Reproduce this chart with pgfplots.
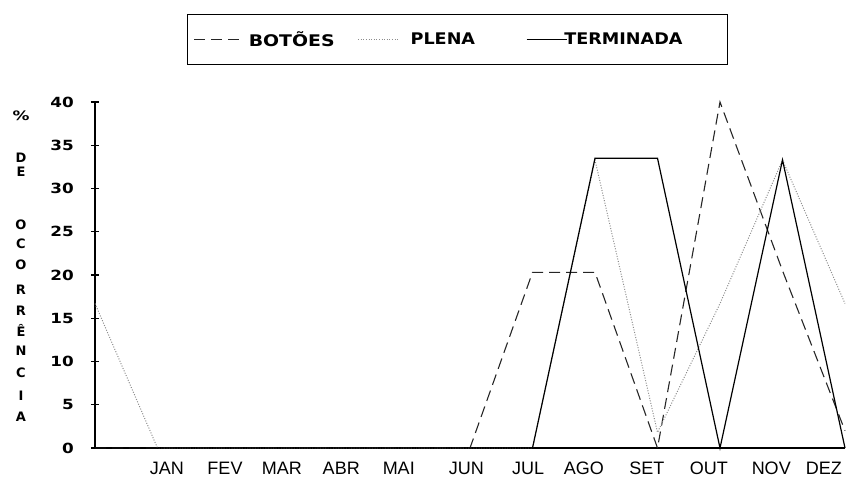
\documentclass[border=0pt]{standalone}
\usepackage{fontspec}
\setmainfont{Liberation Sans}
\newfontfamily\dvb{DejaVu Sans}
\usepackage{graphicx}
\usepackage{pgfplots}
\pgfplotsset{compat=1.18}
\pgfplotsset{
  legA/.style={legend image code/.code={\draw[##1] (0pt,0pt) -- (49pt,0pt);}},
  legB/.style={legend image code/.code={\draw[##1] (0pt,0pt) -- (40pt,0pt);}},
}
\newcommand\yl[1]{\scalebox{1.2}[1]{#1}}
\newcommand\lgt[1]{\scalebox{1.1}[1]{#1}}
\begin{document}
\begin{tikzpicture}[x=1pt,y=1pt]
\useasboundingbox (0,0) rectangle (847,477);
\begin{axis}[
  at={(95pt,29pt)}, anchor=south west,
  scale only axis, width=750pt, height=346pt,
  xmin=0, xmax=12, ymin=0, ymax=40,
  clip=false,
  axis x line=bottom, axis y line=left,
  axis line style={-, line width=1.5pt},
  xtick={1.15,2.08,2.99,3.94,4.86,5.94,6.93,7.82,8.83,9.82,10.82,11.66},
  xticklabels={JAN,FEV,MAR,ABR,MAI,JUN,JUL,AGO,SET,OUT,NOV,DEZ},
  xtick style={draw=none},
  xticklabel style={font=\fontsize{18}{18}\selectfont, anchor=north, inner sep=0pt, yshift=-10pt},
  ytick={0,5,10,15,20,25,30,35,40},
  yticklabels={\yl{0},\yl{5},\yl{10},\yl{15},\yl{20},\yl{25},\yl{30},\yl{35},\yl{40}},
  yticklabel style={font=\fontsize{14}{14}\selectfont\dvb\bfseries, anchor=east, inner sep=0pt, xshift=-17pt},
  ytick style={line width=1.2pt, black},
  major tick length=8pt, tick align=center,
  legend columns=3,
  legend cell align=left,
  legend style={at={(0.1227,1.1806)}, anchor=west, draw=black, line width=1.3pt,
    font=\fontsize{16}{16}\selectfont\dvb\bfseries, inner xsep=6pt, inner ysep=15pt},
]
\addplot[black!85, line width=1.1pt, dash pattern=on 11pt off 6pt, legA]
  coordinates {(0,0)(1,0)(2,0)(3,0)(4,0)(5,0)(6,0)(7,20.3)(8,20.3)(9,0)(10,40)(11,20.5)(12,2)};
\addlegendentry{\hspace*{3pt}\scalebox{1.18}[1]{BOTÕES}\hspace*{21pt}}
\addplot[black!45, line width=1pt, dash pattern=on 1pt off 1.6pt, legB]
  coordinates {(0,16.7)(1,0)(2,0)(3,0)(4,0)(5,0)(6,0)(7,0)(8,33.3)(9,1.8)(10,16.7)(11,33.3)(12,16.7)};
\addlegendentry{\hspace*{10pt}\lgt{PLENA}\hspace*{49pt}}
\addplot[black, line width=1.2pt, legB]
  coordinates {(0,0)(1,0)(2,0)(3,0)(4,0)(5,0)(6,0)(7,0)(8,33.5)(9,33.5)(10,0)(11,33.3)(12,0)};
\addlegendentry{\hspace*{-5pt}\lgt{TERMINADA}\hspace*{37pt}}
\end{axis}
\begin{scope}[every node/.style={font=\fontsize{13}{13}\selectfont\dvb\bfseries, inner sep=0pt}]
\node at (21,361) {\scalebox{1.3}[1]{\%}};
\node at (21,319) {D};
\node at (21,305) {E};
\node at (21,252) {O};
\node at (21,233) {C};
\node at (21,212) {O};
\node at (21,187) {R};
\node at (21,166) {R};
\node at (21,147) {Ê};
\node at (21,126) {N};
\node at (21,104) {C};
\node at (21,81) {I};
\node at (21,60) {A};
\end{scope}
\end{tikzpicture}
\end{document}
